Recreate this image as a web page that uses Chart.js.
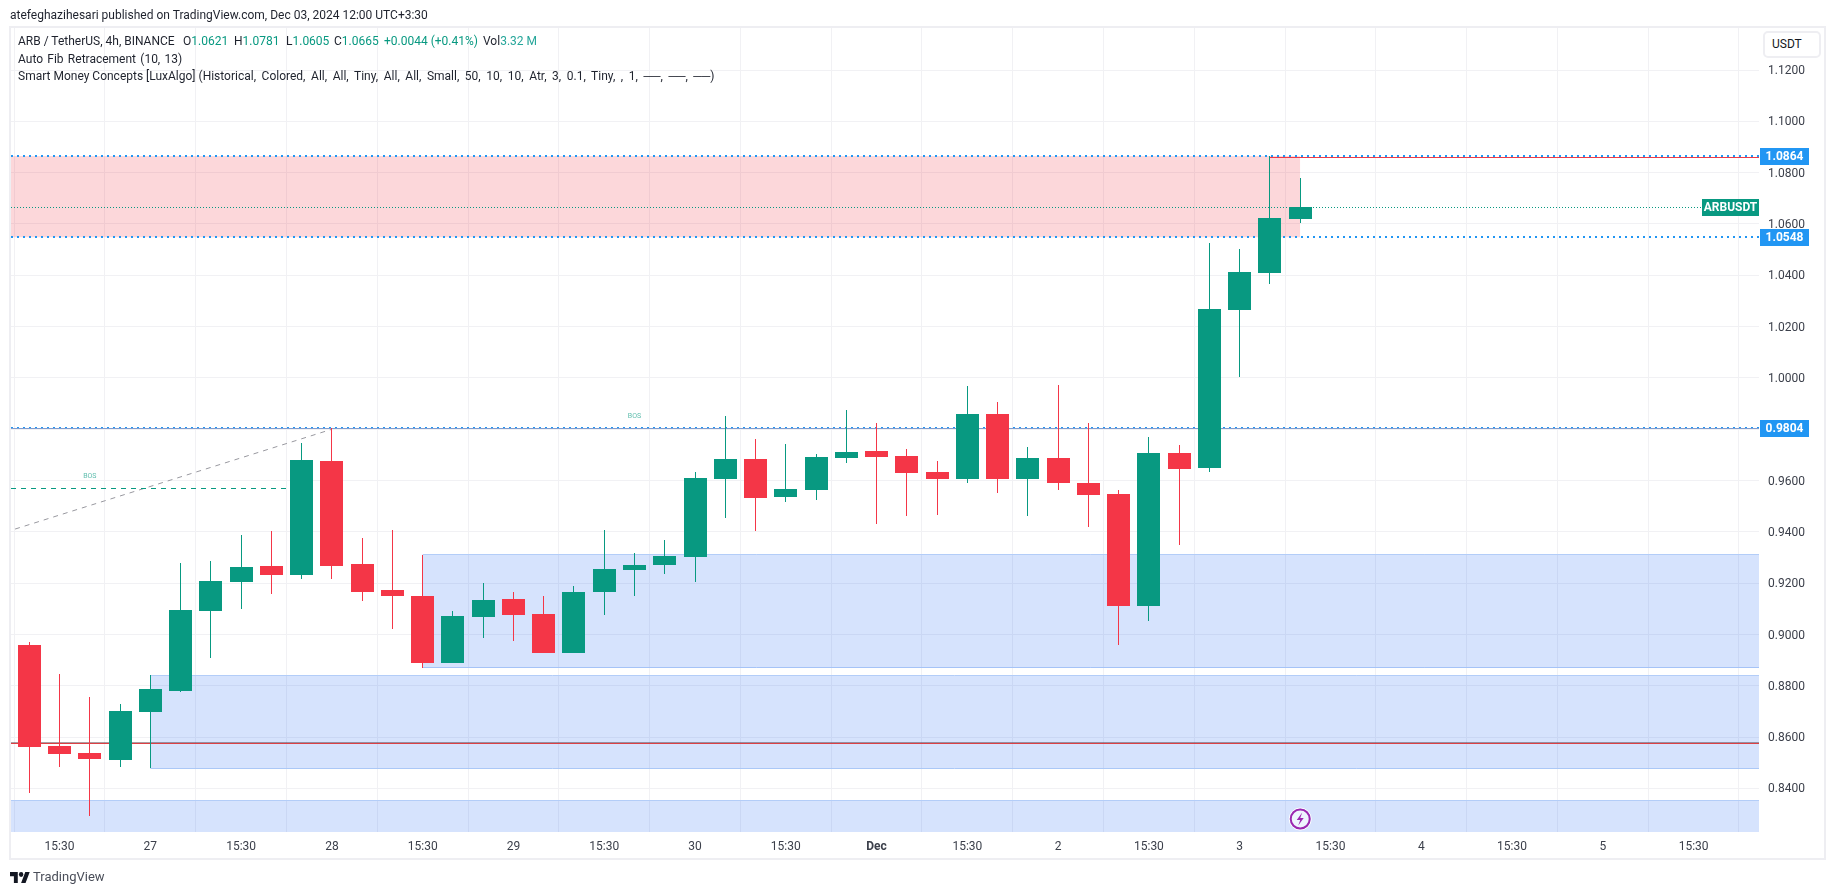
<!DOCTYPE html>
<html>
<head>
<meta charset="utf-8">
<title>ARB / TetherUS</title>
<script src="https://cdn.jsdelivr.net/npm/chart.js@4/dist/chart.umd.min.js"></script>
<style>
html,body{margin:0;padding:0;background:#fff;width:1835px;height:895px;overflow:hidden;font-family:Roboto,sans-serif;color:#131722}
#pane{position:absolute;left:9px;top:26px;width:1813px;height:830px;border:2px solid #eeeef2}
canvas{position:absolute;left:0;top:0}
.t{position:absolute;font-size:12px;line-height:16px;white-space:pre;color:#1e222d}
.v{color:#089981}
#usdt{position:absolute;left:1763px;top:31px;width:54px;height:23px;border:2px solid #eeeef2;border-radius:5px;font-size:12px;line-height:23px;text-indent:7px;color:#131722;background:#fff}
#logo{position:absolute;left:10px;top:872px}
#brand{position:absolute;left:33px;top:868px;font-size:13px;line-height:18px;color:#4a4e59}
</style>
</head>
<body>
<div id="pane"></div>
<canvas id="c" width="1835" height="895"></canvas>
<div class="t" style="left:10px;top:7px">atefeghazihesari published on TradingView.com, Dec 03, 2024 12:00 UTC+3:30</div>
<div class="t" style="left:18px;top:33px">ARB / TetherUS, 4h, BINANCE</div>
<div class="t" style="left:183px;top:33px">O<span class="v">1.0621</span></div>
<div class="t" style="left:234px;top:33px">H<span class="v">1.0781</span></div>
<div class="t" style="left:286px;top:33px">L<span class="v">1.0605</span></div>
<div class="t" style="left:334px;top:33px">C<span class="v">1.0665</span></div>
<div class="t" style="left:384px;top:33px"><span class="v">+0.0044 (+0.41%)</span></div>
<div class="t" style="left:483px;top:33px">Vol<span style="color:#26a69a">3.32 M</span></div>
<div class="t" style="left:18px;top:51px;word-spacing:1.3px">Auto Fib Retracement (10, 13)</div>
<div class="t" style="left:18px;top:68px">Smart Money Concepts [LuxAlgo] <span style="word-spacing:2.6px">(Historical, Colored, All, All, Tiny, All, All, Small, 50, 10, 10, Atr, 3, 0.1, Tiny, , 1, ──, ──, ──)</span></div>
<div id="usdt">USDT</div>
<svg id="logo" width="20" height="11" viewBox="0 0 36 18" preserveAspectRatio="none"><path fill="#131722" d="M14 18H7V7H0V0h14v18zM28 18h-8l7.5-18h8L28 18z"/><circle fill="#131722" cx="20" cy="4" r="4"/></svg>
<div id="brand">TradingView</div>
<script>
const opens  = [0.8959,0.8566,0.8538,0.8512,0.8699,0.8781,0.9092,0.9205,0.9267,0.9232,0.9676,0.9275,0.9174,0.9150,0.8890,0.9068,0.9138,0.9080,0.8928,0.9166,0.9251,0.9271,0.9302,0.9606,0.9684,0.9536,0.9563,0.9688,0.9715,0.9696,0.9633,0.9606,0.9859,0.9606,0.9688,0.9591,0.9548,0.9111,0.9707,0.9649,1.0265,1.0409,1.0621];
const highs  = [0.8971,0.8846,0.8757,0.8729,0.8842,0.9279,0.9287,0.9388,0.9403,0.9746,0.9804,0.9376,0.9407,0.9310,0.9092,0.9201,0.9166,0.9150,0.9189,0.9407,0.9318,0.9368,0.9633,0.9852,0.9762,0.9743,0.9704,0.9875,0.9824,0.9723,0.9676,0.9969,0.9906,0.9731,0.9972,0.9824,0.9563,0.9770,0.9739,1.0526,1.0502,1.0864,1.0781];
const lows   = [0.8384,0.8485,0.8294,0.8485,0.8479,0.8777,0.8910,0.9100,0.9159,0.9216,0.9216,0.9131,0.9022,0.8871,0.8890,0.8986,0.8975,0.8928,0.8928,0.9076,0.9150,0.9236,0.9205,0.9454,0.9403,0.9516,0.9524,0.9668,0.9431,0.9462,0.9466,0.9591,0.9552,0.9462,0.9563,0.9419,0.8959,0.9053,0.9349,0.9633,1.0004,1.0366,1.0605];
const closes = [0.8563,0.8536,0.8516,0.8702,0.8788,0.9096,0.9209,0.9263,0.9232,0.9680,0.9267,0.9166,0.9150,0.8890,0.9072,0.9135,0.9076,0.8928,0.9166,0.9255,0.9271,0.9306,0.9610,0.9684,0.9532,0.9567,0.9692,0.9711,0.9692,0.9630,0.9606,0.9859,0.9606,0.9688,0.9591,0.9544,0.9111,0.9707,0.9645,1.0269,1.0413,1.0623,1.0665];

const xTickIndex  = [1,4,7,10,13,16,19,22,25,28,31,34,37,40,43,46,49,52,55];
const xTickLabels = ['15:30','27','15:30','28','15:30','29','15:30','30','15:30','Dec','15:30','2','15:30','3','15:30','4','15:30','5','15:30'];
const yTickValues = [0.84,0.86,0.88,0.90,0.92,0.94,0.96,0.98,1.00,1.02,1.04,1.06,1.08,1.10,1.12];

const xMin = -0.6048, xMax = 57.161, yMin = 0.82304, yMax = 1.13637;

const demandZones = [
  {from:xMin, top:0.8354, bottom:yMin},
  {from:4,    top:0.8841, bottom:0.8479},
  {from:13,   top:0.9310, bottom:0.8871}
];
const supplyZone = {from:xMin, to:42, top:1.0864, bottom:1.0548};
const priceLevels = [1.0864, 1.0548, 0.9804];
const lastPrice = 1.0665;
const fibBase = 0.8576;
const fibBaseShade = 0.8580;
const bosLine = {from:xMin, to:9, y:0.9570};
const trendLine = [{x:-0.47,y:0.9411},{x:10,y:0.9800}];
const bosLabels = [{x:2,y:0.9617},{x:20,y:0.9852}];
const highLine = {from:41, y:1.0859};
const eqLine = 0.9802;
const eventMark = {x:42, y:0.8281};

const UP='#089981', DOWN='#f43647';
const isUp = i => closes[i] >= opens[i];
const seg = (a,b,y) => [{x:a,y},{x:b,y}];
const lineDS = (data,color,width,dash,order,extra) => Object.assign({type:'line',data,borderColor:color,borderWidth:width,borderDash:dash||[],pointRadius:0,order,fill:false,tension:0},extra||{});

const datasets = [
  {type:'bar',label:'bodies',data:opens.map((o,i)=>({x:i,y:[o,closes[i]]})),
   backgroundColor:opens.map((o,i)=>isUp(i)?UP:DOWN),barThickness:23,grouped:false,order:1,inflateAmount:0,borderWidth:0},
  {type:'bar',label:'wicks',data:highs.map((h,i)=>({x:i,y:[lows[i],h]})),
   backgroundColor:opens.map((o,i)=>isUp(i)?UP:DOWN),barThickness:1,grouped:false,order:2,inflateAmount:0,borderWidth:0}
];
priceLevels.forEach(p=>datasets.push(lineDS(seg(xMin,xMax,p),'#2196f3',2,[2,4],5)));
datasets.push(lineDS(seg(xMin,xMax,eqLine),'#7f9ccf',1,[],4));
datasets.push(lineDS(seg(highLine.from,xMax,highLine.y),'#ef3a47',1,[],4));
datasets.push(lineDS(seg(xMin,xMax,fibBaseShade),'rgba(70,40,50,0.45)',1,[],5));
datasets.push(lineDS(seg(xMin,xMax,fibBase),'#dc4044',1,[],5));
datasets.push(lineDS(seg(xMin,xMax,lastPrice),UP,1,[1,2],5));
datasets.push(lineDS(seg(bosLine.from,bosLine.to,bosLine.y),UP,1,[5,5],5));
datasets.push(lineDS(trendLine,'#98989f',1,[5,5],5));
demandZones.forEach(z=>{
  datasets.push(lineDS(seg(z.from,xMax,z.top),'#b3cdf8',1,[],10,{fill:{value:z.bottom},backgroundColor:'rgba(39,108,245,0.19)'}));
  datasets.push(lineDS(seg(z.from,xMax,z.bottom),'#b3cdf8',1,[],10));
});
datasets.push(lineDS(seg(supplyZone.from,supplyZone.to,supplyZone.top),'rgba(0,0,0,0)',0,[],10,{fill:{value:supplyZone.bottom},backgroundColor:'rgba(242,54,69,0.2)'}));

const snapPlugin = {
  id:'snap',
  afterDatasetsUpdate(chart){
    chart.data.datasets.forEach((d,di)=>{
      const els = chart.getDatasetMeta(di).data;
      if(d.type==='bar'){
        els.forEach(el=>{
          el.x = Math.floor(el.x)+0.5;
          el.y = Math.round(el.y);
          el.base = Math.round(el.base);
        });
      } else if(d.data.length===2 && d.data[0].y===d.data[1].y){
        els.forEach(el=>{ el.y = d.borderWidth===1 ? Math.floor(el.y)+0.5 : Math.round(el.y); });
      }
    });
  }
};
const overlayPlugin = {
  id:'overlay',
  afterDraw(chart){
    const {ctx,scales:{x,y},chartArea:a} = chart;
    ctx.save();
    ctx.textBaseline='middle';
    ctx.font='7px Roboto'; ctx.textAlign='center'; ctx.fillStyle='rgba(8,153,129,0.65)';
    bosLabels.forEach(b=>ctx.fillText('BOS',x.getPixelForValue(b.x),y.getPixelForValue(b.y)));
    const ly=Math.floor(y.getPixelForValue(lastPrice));
    ctx.fillStyle=UP; ctx.fillRect(a.right-57,ly-8,57,17);
    ctx.fillStyle='#fff'; ctx.font='bold 12px Roboto'; ctx.textAlign='center';
    ctx.fillText('ARBUSDT',a.right-28.5,ly+1);
    priceLevels.forEach(p=>{
      const py=Math.round(y.getPixelForValue(p));
      ctx.fillStyle='#2196f3'; ctx.fillRect(a.right+1,py-8,49,17);
      ctx.fillStyle='#fff'; ctx.textAlign='center';
      ctx.fillText(p.toFixed(4),a.right+25.5,py+1);
    });
    const ex=x.getPixelForValue(eventMark.x), ey=y.getPixelForValue(eventMark.y);
    ctx.beginPath(); ctx.arc(ex,ey,9.5,0,Math.PI*2); ctx.fillStyle='rgba(255,255,255,0.6)'; ctx.fill();
    ctx.lineWidth=1; ctx.strokeStyle='#fff'; ctx.beginPath(); ctx.arc(ex,ey,11,0,Math.PI*2); ctx.stroke();
    ctx.lineWidth=2; ctx.strokeStyle='#9c27b0'; ctx.beginPath(); ctx.arc(ex,ey,9.5,0,Math.PI*2); ctx.stroke();
    ctx.beginPath(); ctx.moveTo(ex+2,ey-6.5); ctx.lineTo(ex-3.5,ey+1); ctx.lineTo(ex,ey+1);
    ctx.lineTo(ex-2,ey+6.5); ctx.lineTo(ex+3.5,ey-1); ctx.lineTo(ex,ey-1); ctx.closePath();
    ctx.fillStyle='#9c27b0'; ctx.fill();
    ctx.restore();
  }
};

new Chart(document.getElementById('c'),{
  type:'bar',
  data:{datasets},
  plugins:[snapPlugin,overlayPlugin],
  options:{
    responsive:false,animation:false,events:[],
    layout:{padding:{left:11,top:28,right:10,bottom:37}},
    plugins:{legend:{display:false},tooltip:{enabled:false}},
    scales:{
      x:{type:'linear',min:xMin,max:xMax,offset:false,
        afterBuildTicks(s){s.ticks=xTickIndex.map(value=>({value}));},
        afterFit(s){s.height=26;},
        grid:{color:'#f1f1f4',drawTicks:false,lineWidth:1},border:{display:false},
        ticks:{autoSkip:false,maxRotation:0,padding:8,color:'#3c404b',
          font:c=>({family:'Roboto',size:12,weight:(c.tick&&c.tick.label==='Dec')?'bold':'normal'}),
          callback:v=>xTickLabels[xTickIndex.indexOf(v)]}
      },
      y:{type:'linear',position:'right',min:yMin,max:yMax,
        afterBuildTicks(s){s.ticks=yTickValues.map(value=>({value}));},
        afterFit(s){s.width=66;},
        grid:{color:'#f1f1f4',drawTicks:false,lineWidth:1},border:{display:false},
        ticks:{padding:9,labelOffset:1,color:'#3c404b',font:{family:'Roboto',size:12},callback:v=>v.toFixed(4)}
      }
    }
  }
});
</script>
</body>
</html>
